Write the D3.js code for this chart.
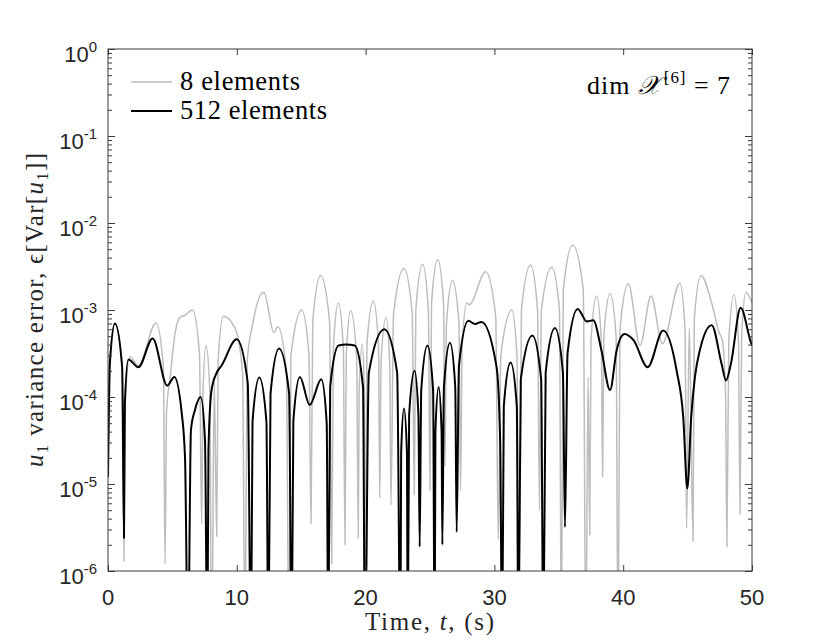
<!DOCTYPE html>
<html>
<head>
<meta charset="utf-8">
<script src="https://cdn.jsdelivr.net/npm/d3@7"></script>
<style>
  body { margin: 0; background: #fff; }
</style>
</head>
<body>
<div id="chart"></div>
<script>
// ---- data ----
// 8 elements (grey)
const t8 = [0, 0.15, 0.54, 1.1, 1.24, 1.33, 1.71, 2.36, 3.73, 4.3, 4.43, 4.55, 4.81, 5.2, 5.59, 5.98, 6.55,
  7.1, 7.27, 7.38, 7.61, 7.9, 8.05, 8.25, 8.44, 8.55, 8.95, 9.86, 10.45, 10.64, 10.8, 11.2, 12.1, 12.88, 13.18,
  13.85, 14.05, 14.2, 15.04, 15.6, 15.76, 15.9, 16.5, 17.2, 17.37, 17.5, 17.88, 18.27, 18.4, 18.5, 18.84,
  19.3, 19.43, 19.5, 19.74, 19.9, 19.98, 20.1, 20.6, 21.0, 21.1, 21.2, 21.58, 21.87, 21.97, 22.17, 22.98,
  23.62, 23.78, 23.9, 24.43, 24.87, 25.0, 25.12, 25.6, 26.05, 26.16, 26.28, 26.75, 27.25, 27.37, 27.5, 27.85,
  28.05, 29.32, 30.1, 30.3, 30.5, 31.35, 31.75, 31.9, 32.1, 32.8, 33.35, 33.5, 33.65, 34.45, 35.05, 35.2,
  35.35, 36.08, 36.9, 37.1, 37.27, 37.4, 37.5, 37.94, 38.3, 38.4, 38.5, 38.98, 39.45, 39.6, 39.75, 40.4,
  41.3, 42.16, 43.04, 44.4, 44.8, 44.92, 45.13, 45.42, 45.52, 46.04, 46.87, 47.45, 47.7, 47.95, 48.05, 48.2,
  48.6, 48.95, 49.07, 49.2, 49.53, 50];
const v8 = [1.5e-5, 2.6e-4, 7.0e-4, 2.2e-4, 1.3e-6, 9.0e-5, 2.9e-4, 2.3e-4, 7.1e-4, 2.2e-4, 1.2e-6, 7.0e-5, 1.6e-4, 5.3e-4, 8.3e-4, 8.7e-4, 1.0e-3,
  3.2e-4, 3.5e-6, 1.2e-4, 3.9e-4, 1.2e-4, 1e-7, 1.5e-4, 2.5e-6, 2.6e-4, 8.5e-4, 6.2e-4, 1.9e-4, 1e-7, 2.5e-4, 6.5e-4, 1.6e-3, 5.5e-4, 6.4e-4,
  2.0e-4, 1e-7, 3.0e-4, 1.0e-3, 3.1e-4, 3.5e-6, 7.5e-4, 2.5e-3, 7.5e-4, 1.2e-6, 3.7e-4, 1.2e-3, 3.7e-4, 2.0e-6, 3.0e-4, 9.8e-4,
  3.0e-4, 2.4e-6, 1.2e-4, 4.0e-4, 1.2e-4, 1e-7, 4.0e-4, 1.27e-3, 4.0e-4, 6.9e-6, 2.5e-4, 8.2e-4, 2.5e-4, 5.7e-6, 9.0e-4, 3.0e-3,
  9.0e-4, 7.5e-6, 1.0e-3, 3.35e-3, 1.0e-3, 8.5e-6, 1.2e-3, 3.8e-3, 1.2e-3, 1.6e-5, 7.0e-4, 2.2e-3, 7.0e-4, 8.5e-6, 4.0e-4, 1.2e-3,
  1.15e-3, 2.75e-3, 8.5e-4, 2.3e-6, 3.0e-4, 1.0e-3, 3.0e-4, 1e-7, 1.0e-3, 3.3e-3, 1.0e-3, 5.0e-6, 1.0e-3, 3.1e-3, 1.0e-3, 1e-7,
  1.7e-3, 5.6e-3, 1.7e-3, 1e-7, 1.7e-4, 2.6e-6, 4.5e-4, 1.45e-3, 4.5e-4, 1.2e-5, 5.0e-4, 1.55e-3, 5.0e-4, 1e-7, 6.0e-4, 2.0e-3,
  3.9e-4, 1.45e-3, 4.1e-4, 2.05e-3, 6.0e-4, 3.1e-6, 6.2e-4, 2.2e-6, 8.0e-4, 2.5e-3, 1.2e-3, 5.5e-4, 4.5e-4, 1.0e-4, 1.9e-6, 4.5e-4,
  1.5e-3, 4.5e-4, 4.5e-6, 5.0e-4, 1.6e-3, 1.2e-3];

// 512 elements (black)
const t512 = [0, 0.15, 0.54, 1.1, 1.24, 1.31, 1.58, 2.36, 3.47, 4.6, 5.15, 5.72, 5.98, 6.21,
  6.44, 6.75, 7.2, 7.53, 7.71, 7.8, 8.04, 8.44, 8.82, 9.99, 10.85, 11.1,
  11.22, 11.75, 12.3, 12.45, 12.62, 13.28, 14.06, 14.26, 14.39, 14.9, 15.66, 16.56, 16.98, 17.1,
  17.25, 17.9, 18.5, 19.15, 19.8, 19.95, 20.25, 21.45, 22.45, 22.7, 22.76, 22.98, 23.21, 23.27,
  23.38, 23.8, 24.1, 24.2, 24.32, 24.8, 25.24, 25.36, 25.42, 25.67, 25.9, 25.96, 26.08, 26.55, 26.96, 27.07,
  27.25, 27.98, 28.5, 29.0, 30.17, 30.45, 30.6, 30.73, 31.26, 31.74, 31.86, 32.05, 32.95, 33.63, 33.8,
  33.98, 34.7, 35.32, 35.48, 35.68, 36.47, 37.17, 37.68, 38.3, 38.98, 39.5, 40.1, 40.8, 41.9, 43.1, 44.15,
  44.66, 44.98, 45.28, 45.57, 45.96, 46.87, 47.64, 47.98, 48.36, 49.12, 49.9, 50];
const v512 = [1.2e-5, 2.5e-4, 7.0e-4, 2.2e-4, 2.4e-6, 8.4e-5, 2.7e-4, 2.2e-4, 4.7e-4, 1.35e-4, 1.7e-4, 6.6e-5, 2.0e-5, 1e-7,
  4.2e-5, 7.1e-5, 1.0e-4, 3.2e-5, 1e-7, 2.5e-5, 1.2e-4, 1.9e-4, 2.3e-4, 4.6e-4, 1.45e-4, 1e-7,
  5.2e-5, 1.67e-4, 5.2e-5, 1e-7, 1.1e-4, 3.6e-4, 1.1e-4, 1e-7, 5.3e-5, 1.7e-4, 8.1e-5, 1.6e-4, 5.0e-5, 1e-7,
  1.3e-4, 3.9e-4, 4.0e-4, 3.9e-4, 1.3e-4, 1e-7, 1.9e-4, 6.0e-4, 1.9e-4, 1e-7, 2.3e-5, 7.4e-5, 2.3e-5, 1e-7,
  6.2e-5, 2.0e-4, 6.2e-5, 1.9e-6, 1.2e-4, 3.9e-4, 1.2e-4, 1e-7, 4.0e-5, 1.3e-4, 4.0e-5, 2.0e-6, 1.3e-4, 4.2e-4, 1.3e-4, 2.8e-6,
  2.3e-4, 7.5e-4, 6.9e-4, 7.3e-4, 2.2e-4, 3.0e-5, 1e-7, 7.8e-5, 2.5e-4, 7.8e-5, 1e-7, 1.6e-4, 5.1e-4, 1.6e-4, 1e-7,
  1.9e-4, 6.2e-4, 1.9e-4, 3.2e-6, 3.2e-4, 1.03e-3, 7.4e-4, 7.6e-4, 3.5e-4, 1.2e-4, 3.5e-4, 5.3e-4, 4.5e-4, 2.2e-4, 5.8e-4, 2.0e-4,
  5.9e-5, 8.9e-6, 5.9e-5, 1.7e-4, 3.5e-4, 6.7e-4, 2.4e-4, 1.55e-4, 2.4e-4, 1.06e-3, 4.3e-4, 3.9e-4];

const xTicks = [0, 10, 20, 30, 40, 50];
const yTickExps = [0, -1, -2, -3, -4, -5, -6];
const seriesNames = ["8 elements", "512 elements"];
const seriesColors = ["#bdbdbd", "#000000"];

// ---- layout ----
var width = 830, height = 642;
var margin = { top: 49, right: 78, bottom: 71, left: 108 };
var pw = width - margin.left - margin.right,
    ph = height - margin.top - margin.bottom;

var svg = d3.select("#chart").append("svg")
    .attr("width", width)
    .attr("height", height)
    .style("font-family", "'Liberation Sans', Arial, sans-serif");

var g = svg.append("g")
    .attr("transform", "translate(" + margin.left + "," + margin.top + ")");

var x = d3.scaleLinear().domain([0, 50]).range([0, pw]);
var y = d3.scaleLog().domain([1e-6, 1]).range([ph, 0]);

g.append("clipPath").attr("id", "plotclip")
  .append("rect").attr("width", pw).attr("height", ph);

var line = d3.line()
    .x(function (d) { return x(d[0]); })
    .y(function (d) { return y(d[1]); })
    .curve(d3.curveMonotoneX);

var series = [d3.zip(t8, v8), d3.zip(t512, v512)];
var widths = [1.5, 2];

g.append("g").attr("clip-path", "url(#plotclip)")
  .selectAll("path.series")
  .data(series)
  .enter().append("path")
  .attr("class", "series")
  .attr("d", line)
  .attr("fill", "none")
  .attr("stroke", function (d, i) { return seriesColors[i]; })
  .attr("stroke-width", function (d, i) { return widths[i]; })
  .attr("stroke-linejoin", "round");

// ---- axes (ticks inside, box on) ----
var axisColor = "#3a3a3a";
var majorY = yTickExps.map(function (e) { return Math.pow(10, e); });
var minorY = y.ticks().filter(function (v) { return majorY.indexOf(v) < 0; });

function styleAxis(sel) {
  sel.select(".domain").remove();
  sel.selectAll(".tick line").attr("stroke", axisColor).attr("stroke-width", 1);
  sel.selectAll(".tick text").remove();
}

g.append("g").call(d3.axisLeft(y).tickValues(minorY).tickSize(-4).tickFormat("")).call(styleAxis);
g.append("g").call(d3.axisLeft(y).tickValues(majorY).tickSize(-7).tickFormat("")).call(styleAxis);
g.append("g").attr("transform", "translate(" + pw + ",0)")
  .call(d3.axisRight(y).tickValues(minorY).tickSize(-4).tickFormat("")).call(styleAxis);
g.append("g").attr("transform", "translate(" + pw + ",0)")
  .call(d3.axisRight(y).tickValues(majorY).tickSize(-7).tickFormat("")).call(styleAxis);
g.append("g").attr("transform", "translate(0," + ph + ")")
  .call(d3.axisBottom(x).tickValues(xTicks).tickSize(-6).tickFormat("")).call(styleAxis);
g.append("g")
  .call(d3.axisTop(x).tickValues(xTicks).tickSize(-6).tickFormat("")).call(styleAxis);

g.append("rect")
  .attr("width", pw).attr("height", ph)
  .attr("fill", "none")
  .attr("stroke", axisColor)
  .attr("stroke-width", 1);

// x tick labels
g.selectAll(".xlab")
  .data(xTicks)
  .enter().append("text")
  .attr("class", "xlab")
  .attr("x", function (d) { return x(d); })
  .attr("y", ph + 34)
  .attr("text-anchor", "middle")
  .attr("fill", "#262626")
  .style("font-size", "22px")
  .text(function (d) { return d; });

// y tick labels, 10 with superscript
var ylab = g.selectAll(".ylab")
  .data(yTickExps)
  .enter().append("text")
  .attr("class", "ylab")
  .attr("x", -11)
  .attr("y", function (d) { return y(Math.pow(10, d)) + 13; })
  .attr("text-anchor", "end")
  .attr("fill", "#262626")
  .style("font-size", "22px");
ylab.append("tspan").text("10");
ylab.append("tspan").attr("dy", -10).style("font-size", "15px")
  .text(function (d) { return d === 0 ? "0" : "-" + Math.abs(d); });

// axis titles (LaTeX-like serif)
var serif = "'Liberation Serif', 'DejaVu Serif', serif";

svg.append("text")
  .attr("x", 429.5)
  .attr("y", 630)
  .attr("text-anchor", "middle")
  .attr("textLength", 129)
  .attr("lengthAdjust", "spacing")
  .style("font-family", serif)
  .style("font-size", "25px")
  .attr("fill", "#262626")
  .html("Time, <tspan font-style='italic'>t</tspan>, (s)");

var yt = svg.append("text")
  .attr("transform", "translate(43,310) rotate(-90)")
  .attr("text-anchor", "middle")
  .attr("textLength", 314)
  .attr("lengthAdjust", "spacing")
  .style("font-family", serif)
  .style("font-size", "25px")
  .attr("fill", "#262626");
yt.append("tspan").attr("font-style", "italic").text("u");
yt.append("tspan").attr("dy", 5).style("font-size", "17px").text("1");
yt.append("tspan").attr("dy", -5).text(" variance error, ϵ[Var[");
yt.append("tspan").attr("font-style", "italic").text("u");
yt.append("tspan").attr("dy", 5).style("font-size", "17px").text("1");
yt.append("tspan").attr("dy", -5).text("]]");

// legend
var legend = svg.append("g").attr("transform", "translate(131,82)");
var items = legend.selectAll("g")
  .data(seriesNames)
  .enter().append("g")
  .attr("transform", function (d, i) { return "translate(0," + (i * 29) + ")"; });
items.append("line")
  .attr("x1", 0).attr("x2", 41)
  .attr("stroke", function (d, i) { return seriesColors[i]; })
  .attr("stroke-width", function (d, i) { return widths[i]; });
items.append("text")
  .attr("x", 49)
  .attr("y", 8)
  .attr("textLength", function (d, i) { return i === 0 ? 120 : 147; })
  .attr("lengthAdjust", "spacing")
  .style("font-family", serif)
  .style("font-size", "26.5px")
  .attr("fill", "#000")
  .text(function (d) { return d; });

// annotation
var ann = svg.append("text")
  .attr("x", 587)
  .attr("y", 94)
  .attr("textLength", 143)
  .attr("lengthAdjust", "spacing")
  .style("font-family", serif)
  .style("font-size", "26px")
  .attr("fill", "#000");
ann.append("tspan").text("dim ");
ann.append("tspan").style("font-family", "'DejaVu Serif', serif").style("font-style", "italic").text("𝒳");
ann.append("tspan").attr("dx", 3).attr("dy", -11).style("font-size", "17px").text("[6]");
ann.append("tspan").attr("dy", 11).text(" = 7");
</script>
</body>
</html>
